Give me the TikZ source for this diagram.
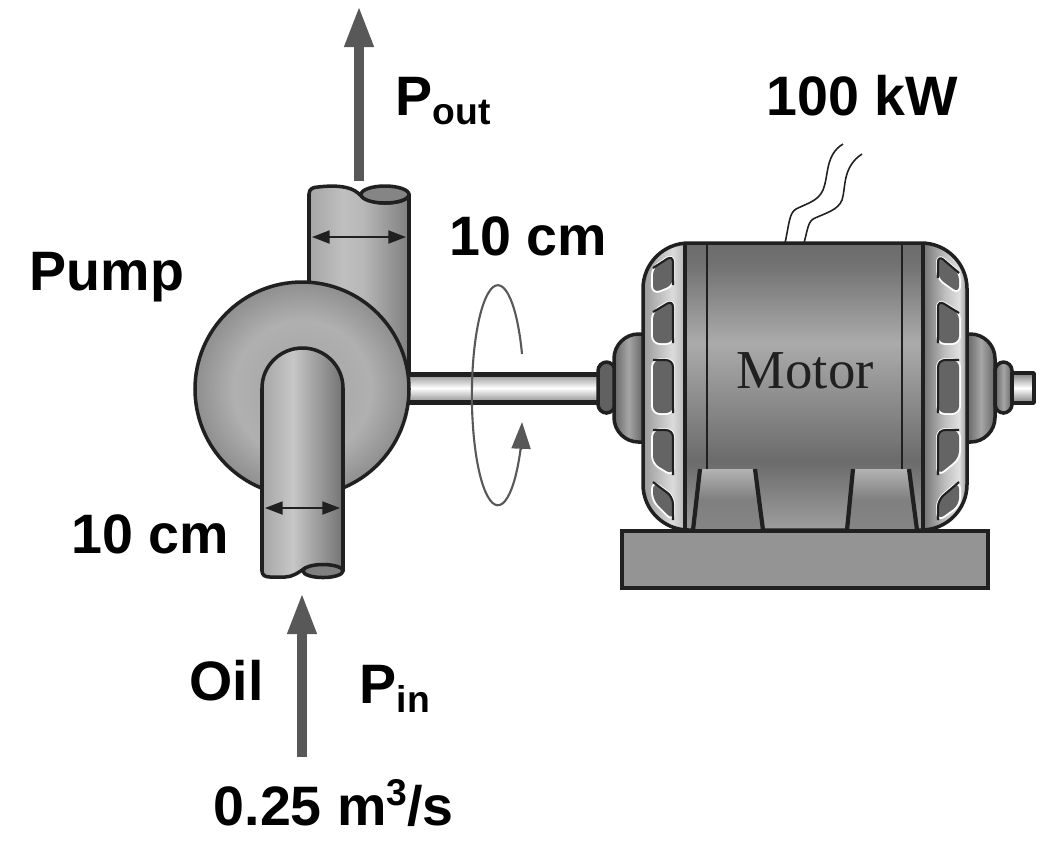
\documentclass[tikz,border=0pt]{standalone}
\usepackage{fontspec}
\setmainfont{Liberation Sans}
\newfontfamily\motorFont{Liberation Serif}
\usepackage{tikz}
\usetikzlibrary{arrows.meta}
\definecolor{arrowColor}{RGB}{88,88,88}
\definecolor{lineColor}{RGB}{32,32,32}
\definecolor{slotColor}{RGB}{100,100,100}
\pgfdeclarehorizontalshading{pipeUpperShade}{100bp}{color(0bp)=(black!35); color(25bp)=(black!35); color(42bp)=(black!25); color(52bp)=(black!28); color(75bp)=(black!50); color(100bp)=(black!50)}
\pgfdeclarehorizontalshading{pipeLowerShade}{100bp}{color(0bp)=(black!35); color(25bp)=(black!35); color(44bp)=(black!22); color(56bp)=(black!35); color(75bp)=(black!55); color(100bp)=(black!55)}
\pgfdeclareverticalshading{shaftShade}{100bp}{color(0bp)=(black!50); color(25bp)=(black!50); color(50bp)=(white); color(75bp)=(black!50); color(100bp)=(black!50)}
\pgfdeclareverticalshading{bodyShade}{100bp}{color(0bp)=(black!38); color(25bp)=(black!38); color(37bp)=(black!58); color(48.5bp)=(black!44); color(57.6bp)=(black!33); color(71bp)=(black!55); color(75bp)=(black!58); color(100bp)=(black!58)}
\pgfdeclarehorizontalshading{capLeftShade}{100bp}{color(0bp)=(black!40); color(25bp)=(black!40); color(60bp)=(black!14); color(75bp)=(black!28); color(100bp)=(black!28)}
\pgfdeclarehorizontalshading{capRightShade}{100bp}{color(0bp)=(black!55); color(25bp)=(black!55); color(50bp)=(black!25); color(66bp)=(black!12); color(75bp)=(black!42); color(100bp)=(black!42)}
\pgfdeclareverticalshading{footShade}{100bp}{color(0bp)=(black!48); color(25bp)=(black!48); color(50bp)=(black!50); color(75bp)=(black!30); color(100bp)=(black!30)}
\pgfdeclareradialshading{pumpShade}{\pgfpoint{0bp}{0bp}}{color(0bp)=(black!36); color(16bp)=(black!31); color(25bp)=(black!44); color(50bp)=(black!44)}
\tikzstyle{pixelGrid} = [x = .01cm, y = -.01cm]
\tikzstyle{bodyLine} = [color=lineColor, line width=1pt, line join=round]
\tikzstyle{bandLine} = [color=lineColor, line width=1.2pt]
\tikzstyle{thinLine} = [color=lineColor, line width=.6pt]
\tikzstyle{flowArrow} = [color=arrowColor, line width=3.1pt, -{Triangle[length=12pt, width=7.6pt]}]
\tikzstyle{sizeArrow} = [color=lineColor, line width=.5pt, {Triangle[length=5pt, width=3.7pt]}-{Triangle[length=5pt, width=3.7pt]}]
\tikzstyle{spinLine} = [color=arrowColor, line width=.6pt]
\tikzstyle{wireLine} = [color=lineColor, line width=.45pt]
\tikzstyle{boldLabel} = [font=\bfseries\fontsize{15.8}{18}\selectfont, anchor=base west, inner sep=0pt]
\tikzstyle{slotGlow} = [color=white, line width=1.1pt, line join=round, rounded corners=2pt]
\tikzstyle{slotFill} = [fill=slotColor, rounded corners=2pt]
\tikzstyle{slotEdge} = [color=lineColor, line width=.6pt, rounded corners=2pt]
\tikzstyle{hubStyle} = [draw=lineColor, line width=1pt, line join=round, left color=black!60, right color=black!60, middle color=black!35]
\tikzstyle{collarStyle} = [draw=lineColor, line width=1pt, fill=black!62]
\newcommand{\smallBelow}[1]{\raisebox{-2.8pt}{\fontsize{10.6}{12}\selectfont #1}}
\newcommand{\smallAbove}[1]{\raisebox{5.5pt}{\fontsize{10.6}{12}\selectfont #1}}
\newcommand{\motorSlot}[6]{
  \draw [slotGlow] (#1,#3) -- (#2,#4) -- (#2,#5) -- (#1,#6) -- cycle;
  \fill [slotFill] (#1,#3) -- (#2,#4) -- (#2,#5) -- (#1,#6) -- cycle;
  \draw [slotEdge] (#1,#3) -- (#2,#4) -- (#2,#5);
}
\newcommand{\motorFoot}[4]{
  \shade [shading=footShade] (#1,530) -- (#2,469) -- (#3,469) -- (#4,530) -- cycle;
  \draw [bandLine] (#1,530) -- (#2,469);
  \draw [bandLine] (#3,469) -- (#4,530);
}
\begin{document}
\begin{tikzpicture}[pixelGrid]
  \useasboundingbox (0,0) rectangle (1049,847);

  % pipes and pump
  \shadedraw [shading=pipeUpperShade, bodyLine] (309,340) -- (309,194) .. controls (309,189) and (313,187) .. (318,187) .. controls (335,185) and (350,186) .. (358,193) .. controls (365,200) and (375,203) .. (385,203) .. controls (397,203) and (409,200) .. (409,194) -- (409,380) -- (309,380) -- cycle;
  \filldraw [bodyLine, fill=black!48] (385,194.5) ellipse [x radius=24, y radius=8.5];
  \shade [shading=shaftShade] (409,372) rectangle (598,404);
  \draw [color=lineColor, line width=1.4pt] (409,374.5) -- (598,374.5);
  \draw [color=lineColor, line width=1.4pt] (409,402.5) -- (598,402.5);
  \shadedraw [shading=pumpShade, bodyLine] (302,389) circle [radius=107];
  \shadedraw [shading=pipeLowerShade, bodyLine] (262,388) arc [start angle=180, end angle=360, x radius=40.5, y radius=40] -- (343,571) -- (323,571) -- (305,568) .. controls (298,573) and (292,577) .. (285,577) -- (270,577) .. controls (265,577) and (262,575) .. (262,571) -- cycle;
  \filldraw [bodyLine, fill=black!50] (323,571) ellipse [x radius=20, y radius=6.5];

  % motor
  \filldraw [collarStyle, rounded corners=2.5pt] (615,362) -- (598,362) -- (598,413) -- (615,413) -- cycle;
  \filldraw [hubStyle, rounded corners=7pt] (643,334) -- (614,334) -- (614,442) -- (643,442);
  \filldraw [hubStyle, rounded corners=7pt] (967,334) -- (995,334) -- (995,442) -- (967,442);
  \filldraw [hubStyle, rounded corners=2.5pt] (995,362) -- (1012,362) -- (1012,413) -- (995,413) -- cycle;
  \shadedraw [shading=shaftShade, bodyLine] (1012,373) rectangle (1034,403);
  \begin{scope}
    \clip [rounded corners=13pt] (643,243) rectangle (967,530);
    \shade [shading=bodyShade] (643,243) rectangle (967,530);
    \shade [shading=capLeftShade] (643,243) rectangle (685,530);
    \shade [shading=capRightShade] (923,243) rectangle (967,530);
  \end{scope}
  \draw [bodyLine, rounded corners=13pt] (643,243) rectangle (967,530);
  \foreach \bandX in {685,923} {
    \draw [bandLine] (\bandX,243) -- (\bandX,530);
  }
  \foreach \bandX in {707,902} {
    \draw [thinLine] (\bandX,243) -- (\bandX,469);
  }
  \foreach \slotA/\slotB/\slotC/\slotD in {268/255/285/293, 312/300/343/343, 360/360/413/413, 430/430/475/463, 482/497/520/500} {
    \motorSlot{653}{673}{\slotA}{\slotB}{\slotC}{\slotD}
  }
  \foreach \slotA/\slotB/\slotC/\slotD in {273/255/278/293, 313/300/343/343, 360/360/413/413, 430/430/475/458, 482/500/520/505} {
    \motorSlot{959}{938}{\slotA}{\slotB}{\slotC}{\slotD}
  }
  \motorFoot{693}{700}{755}{763}
  \motorFoot{847}{853}{909}{917}
  \filldraw [bandLine, fill=black!42] (622,531) rectangle (988,588);
  \node (motorLabel) [font=\motorFont\fontsize{15.6}{18}\selectfont, anchor=base west, inner sep=0pt, color=lineColor] at (736,388) {Motor};
  \draw [wireLine] (785,243) .. controls (789,225) and (789,213) .. (796,209) .. controls (808,203) and (818,201) .. (823,190) .. controls (829,175) and (825,155) .. (843,144);
  \draw [wireLine] (804,243) .. controls (808,228) and (808,221) .. (815,218) .. controls (826,213) and (838,210) .. (842,200) .. controls (846,188) and (842,167) .. (862,154);

  % rotation mark
  \draw [spinLine] (522,354) arc [start angle=-22, end angle=-331, x radius=26, y radius=110];
  \coordinate (spinTail) at (521,450);
  \coordinate (spinTip) at (522,422);
  \draw [spinLine, -{Triangle[length=7.6pt, width=5.4pt]}] (spinTail) -- (spinTip);

  % flow and size arrows
  \coordinate (outTail) at (359,181);
  \coordinate (outTip) at (359,5);
  \coordinate (inTail) at (302,757);
  \coordinate (inTip) at (302,592);
  \draw [flowArrow] (outTail) -- (outTip);
  \draw [flowArrow] (inTail) -- (inTip);
  \coordinate (upperLeft) at (312,237);
  \coordinate (upperRight) at (406,237);
  \coordinate (lowerLeft) at (265,508);
  \coordinate (lowerRight) at (340,508);
  \draw [sizeArrow] (upperLeft) -- (upperRight);
  \draw [sizeArrow] (lowerLeft) -- (lowerRight);

  % labels
  \node (pumpLabel) [boldLabel] at (29,290) {Pump};
  \node (pOutLabel) [boldLabel] at (395,115) {P\smallBelow{out}};
  \node (powerLabel) [boldLabel] at (766,115) {100 kW};
  \node (upperSize) [boldLabel] at (449,255) {10 cm};
  \node (lowerSize) [boldLabel] at (71,553) {10 cm};
  \node (oilLabel) [boldLabel] at (189,700) {Oil};
  \node (pInLabel) [boldLabel] at (359,703) {P\smallBelow{in}};
  \node (flowLabel) [boldLabel] at (213,825) {0.25 m\smallAbove{3}/s};
\end{tikzpicture}
\end{document}
